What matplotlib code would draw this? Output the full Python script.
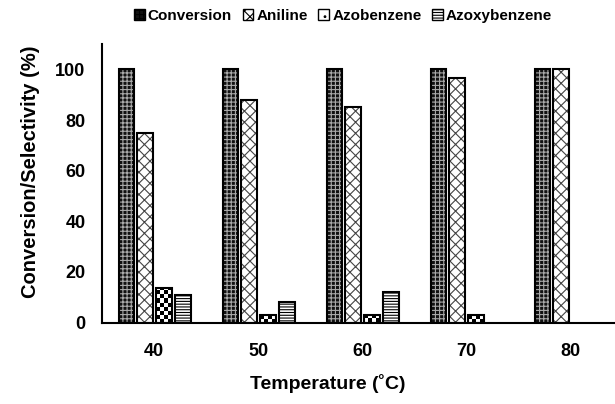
import numpy as np
import matplotlib
matplotlib.use('Agg')
import matplotlib.pyplot as plt
from matplotlib.patches import Patch

temps = ['40', '50', '60', '70', '80']
conversion = [100, 100, 100, 100, 100]
aniline = [75, 88, 85, 96.5, 100]
azobenzene = [13.5, 3, 2.8, 3, 0]
azoxybenzene = [11, 8.3, 12, 0, 0]

plt.rcParams['font.family'] = ['Liberation Sans', 'DejaVu Sans']
plt.rcParams['font.weight'] = 'bold'
plt.rcParams['hatch.linewidth'] = 0.8

fig = plt.figure(figsize=(6.15, 4.04), dpi=100)
ax = fig.add_axes([0.166, 0.2017, 0.834, 0.689])

x = np.arange(len(temps))
w = 0.15
step = 0.181
offs = [(i - 1.5) * step + 0.006 for i in range(4)]

# conversion: dark with light grid
ax.bar(x + offs[0], conversion, w, color='#111111', edgecolor='#aaaaaa', hatch='++++', linewidth=0, zorder=2)
ax.bar(x + offs[0], conversion, w, fill=False, edgecolor='black', linewidth=1.5, zorder=3)

# aniline: white with cross hatch
ax.bar(x + offs[1], aniline, w, color='white', edgecolor='#444444', hatch='xxx', linewidth=0, zorder=2)
ax.bar(x + offs[1], aniline, w, fill=False, edgecolor='black', linewidth=1.5, zorder=3)

# azobenzene: checkerboard
azo_bars = ax.bar(x + offs[2], azobenzene, w, color='white', linewidth=0, zorder=2)
checker = (np.indices((12, 4)).sum(axis=0) % 2).astype(float)
for b in azo_bars:
    if b.get_height() <= 0:
        continue
    x0 = b.get_x()
    bw = b.get_width()
    sq = 4 / 2.53  # about 4 px per square
    im = ax.imshow(checker, cmap='gray_r', interpolation='nearest', aspect='auto',
                   extent=[x0, x0 + bw, 0, 12 * sq], origin='lower', zorder=2.5)
    im.set_clip_path(b)
ax.bar(x + offs[2], [h if h > 0 else np.nan for h in azobenzene], w, fill=False,
       edgecolor='black', linewidth=1.5, zorder=3)

# azoxybenzene: horizontal lines
ax.bar(x + offs[3], azoxybenzene, w, color='white', edgecolor='black', hatch='------', linewidth=0, zorder=2)
ax.bar(x + offs[3], [h if h > 0 else np.nan for h in azoxybenzene], w, fill=False,
       edgecolor='black', linewidth=1.5, zorder=3)

ax.set_xlim(-0.5, 4.433)
ax.set_ylim(0, 110)
ax.set_xticks(x)
ax.set_xticklabels(temps)
ax.set_yticks([0, 20, 40, 60, 80, 100])
ax.tick_params(axis='x', length=0, labelsize=13, pad=15)
ax.tick_params(axis='y', length=0, labelsize=13, pad=12)
for s in ['top', 'right']:
    ax.spines[s].set_visible(False)
for s in ['left', 'bottom']:
    ax.spines[s].set_linewidth(1.5)
ax.set_xlabel('Temperature (˚C)', fontsize=14, fontweight='bold')
ax.set_ylabel('Conversion/Selectivity (%)', fontsize=14.5, fontweight='bold')
ax.xaxis.set_label_coords((328 - 102) / 513, -(374 - 322.5) / 278)
ax.yaxis.set_label_coords(-(102 - 40) / 513, (322.5 - 172) / 278)

handles = [
    Patch(facecolor='#111111', edgecolor='black', hatch='++++'),
    Patch(facecolor='white', edgecolor='black', hatch='xxx'),
    Patch(facecolor='white', edgecolor='black', hatch='..'),
    Patch(facecolor='white', edgecolor='black', hatch='------'),
]
fig.legend(handles, ['Conversion', 'Aniline', 'Azobenzene', 'Azoxybenzene'],
           loc='center', bbox_to_anchor=(343 / 615, 1 - 16 / 404), ncol=4, frameon=False,
           handlelength=0.7, handleheight=0.7, handletextpad=0.2, columnspacing=0.7,
           prop={'size': 11, 'weight': 'bold'})

fig.savefig('out.png', dpi=100)
